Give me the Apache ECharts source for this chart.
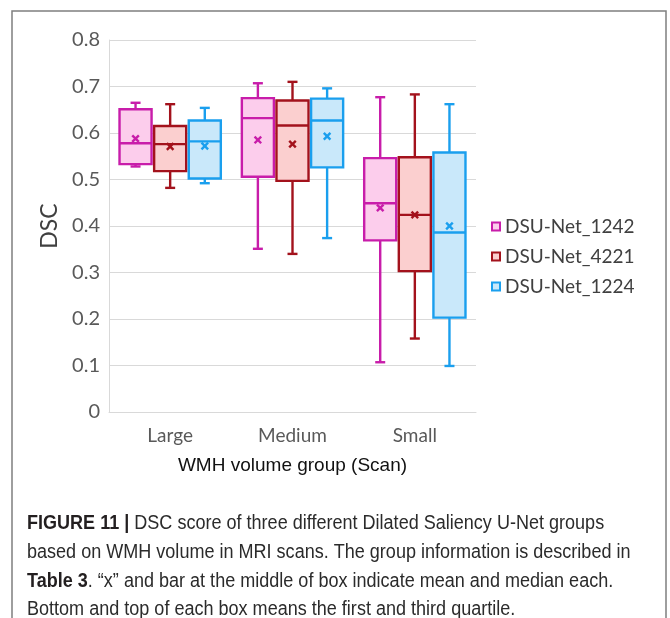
<!DOCTYPE html>
<html><head><meta charset="utf-8">
<script src="https://cdn.jsdelivr.net/npm/echarts@6/dist/echarts.min.js"></script>
<style>html,body{margin:0;padding:0;background:#fff}#c{width:670px;height:618px}</style>
</head><body><div id="c"></div>
<script>
const categories = ['Large', 'Medium', 'Small'];
const seriesNames = ['DSU-Net_1242', 'DSU-Net_4221', 'DSU-Net_1224'];
// each row: [min, Q1, median, Q3, max, mean]
const dsu1242 = [
  [0.528, 0.533, 0.578, 0.651, 0.665, 0.588],
  [0.351, 0.506, 0.632, 0.675, 0.707, 0.585],
  [0.107, 0.369, 0.449, 0.546, 0.677, 0.439]
];
const dsu4221 = [
  [0.482, 0.518, 0.576, 0.615, 0.662, 0.571],
  [0.340, 0.497, 0.616, 0.670, 0.710, 0.576],
  [0.158, 0.303, 0.424, 0.548, 0.683, 0.424]
];
const dsu1224 = [
  [0.492, 0.502, 0.582, 0.627, 0.654, 0.572],
  [0.374, 0.526, 0.627, 0.674, 0.696, 0.593],
  [0.099, 0.203, 0.386, 0.558, 0.662, 0.400]
];
const yMin = 0, yMax = 0.8, yStep = 0.1;
const captionLines = [
  [['b', 'FIGURE 11 | '], ['n', 'DSC score of three different Dilated Saliency U-Net groups']],
  [['n', 'based on WMH volume in MRI scans. The group information is described in']],
  [['b', 'Table 3'], ['n', '. \u201cx\u201d and bar at the middle of box indicate mean and median each.']],
  [['n', 'Bottom and top of each box means the first and third quartile.']]
];

const strokes = ['#C81DAA', '#A3121C', '#1A9FEE'];
const fills = ['#FCCDEC', '#FBCFCF', '#C9E8FA'];
const allData = [dsu1242, dsu4221, dsu1224];

function makeRender(k) {
  const stroke = strokes[k], fill = fills[k];
  return function (params, api) {
    const cat = api.value(0);
    const band = api.size([1, 0])[0];
    const cx = api.coord([cat, 0])[0] + (k - 1) * band * 0.283;
    const w = band * 0.262;
    const y = i => api.coord([cat, api.value(i)])[1];
    const yLo = y(1), yQ1 = y(2), yMed = y(3), yQ3 = y(4), yHi = y(5), yMean = y(6);
    const cap = 5, m = 3.3, lw = 2.4;
    const ls = { stroke: stroke, lineWidth: lw, fill: null };
    return {
      type: 'group',
      children: [
        { type: 'line', shape: { x1: cx, y1: yQ3, x2: cx, y2: yHi }, style: ls },
        { type: 'line', shape: { x1: cx - cap, y1: yHi, x2: cx + cap, y2: yHi }, style: ls },
        { type: 'line', shape: { x1: cx, y1: yQ1, x2: cx, y2: yLo }, style: ls },
        { type: 'line', shape: { x1: cx - cap, y1: yLo, x2: cx + cap, y2: yLo }, style: ls },
        { type: 'rect', shape: { x: cx - w / 2, y: yQ3, width: w, height: yQ1 - yQ3 },
          style: { fill: fill, stroke: stroke, lineWidth: lw } },
        { type: 'line', shape: { x1: cx - w / 2, y1: yMed, x2: cx + w / 2, y2: yMed }, style: ls },
        { type: 'line', shape: { x1: cx - m, y1: yMean - m, x2: cx + m, y2: yMean + m }, style: ls },
        { type: 'line', shape: { x1: cx - m, y1: yMean + m, x2: cx + m, y2: yMean - m }, style: ls }
      ]
    };
  };
}

const series = allData.map((arr, k) => ({
  name: seriesNames[k],
  type: 'custom',
  renderItem: makeRender(k),
  encode: { x: 0, y: [1, 2, 3, 4, 5, 6] },
  itemStyle: { color: fills[k], borderColor: strokes[k], borderWidth: 2 },
  data: arr.map((r, i) => [i].concat(r)),
  silent: true
}));

const captionGraphics = captionLines.map((parts, li) => ({
  type: 'text',
  x: 27,
  y: 514 + li * 28.6,
  scaleX: 0.925,
  silent: true,
  style: {
    text: parts.map(p => '{' + p[0] + '|' + p[1] + '}').join(''),
    rich: {
      b: { fontFamily: 'Liberation Sans, Arial', fontWeight: 'bold', fontSize: 19.5, fill: '#231F20' },
      n: { fontFamily: 'Liberation Sans, Arial', fontSize: 19.5, fill: '#2b2b2b' }
    }
  }
}));

const chart = echarts.init(document.getElementById('c'), null, { renderer: 'canvas' });
chart.setOption({
  backgroundColor: '#fff',
  animation: false,
  grid: { left: 109, right: 194, top: 40, bottom: 206, containLabel: false },
  legend: {
    orient: 'vertical',
    left: 486,
    top: 212,
    icon: 'rect',
    itemWidth: 8,
    itemHeight: 8,
    itemGap: 11,
    selectedMode: false,
    textStyle: { fontFamily: 'Lato', fontSize: 19, color: '#404040' },
    data: seriesNames.map((n, k) => ({
      name: n,
      itemStyle: { color: fills[k], borderColor: strokes[k], borderWidth: 2 }
    }))
  },
  xAxis: {
    type: 'category',
    data: categories,
    axisLine: { show: true, lineStyle: { color: '#D9D9D9', width: 1 } },
    axisTick: { show: false },
    axisLabel: { fontFamily: 'Lato', fontSize: 19, color: '#595959', margin: 14 },
    name: 'WMH volume group (Scan)',
    nameLocation: 'middle',
    nameGap: 44,
    nameTextStyle: { fontFamily: 'Liberation Sans, Arial', fontSize: 19, color: '#111' }
  },
  yAxis: {
    type: 'value',
    min: yMin, max: yMax, interval: yStep,
    axisLine: { show: true, lineStyle: { color: '#D9D9D9', width: 1 } },
    axisTick: { show: false },
    splitLine: { show: true, lineStyle: { color: '#D9D9D9', width: 1 } },
    axisLabel: { fontFamily: 'Lato', fontSize: 20, color: '#595959', margin: 9,
      formatter: v => (Math.round(v * 10) / 10).toString() },
    name: 'DSC',
    nameLocation: 'middle',
    nameRotate: 90,
    nameGap: 44,
    nameTextStyle: { fontFamily: 'Lato', fontSize: 23, color: '#404040' }
  },
  series: series,
  graphic: [
    { type: 'rect', shape: { x: 12, y: 11, width: 654, height: 640 },
      style: { fill: null, stroke: '#7F7F7F', lineWidth: 1.5 }, silent: true, z: -1 }
  ].concat(captionGraphics)
});
</script>
</body></html>
